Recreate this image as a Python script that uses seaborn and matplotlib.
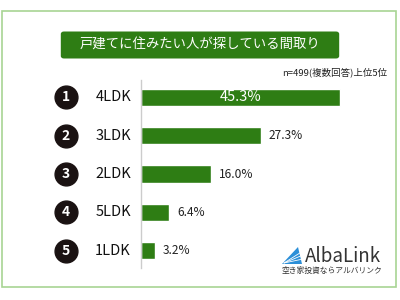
import matplotlib
matplotlib.use('Agg')
import matplotlib.pyplot as plt
import matplotlib.patches as mpatches
import pandas as pd
import seaborn as sns

# data
ranks = ['1', '2', '3', '4', '5']
layouts = ['4LDK', '3LDK', '2LDK', '5LDK', '1LDK']
shares = [45.3, 27.3, 16.0, 6.4, 3.2]

title = '戸建てに住みたい人が探している間取り'
note = 'n=499(複数回答)上位5位'
logo_name = 'AlbaLink'
logo_sub = '空き家投資ならアルバリンク'

green = '#2e7d14'

sns.set_theme(style='white')
plt.rcParams['font.family'] = ['Noto Sans CJK JP', 'DejaVu Sans']

df = pd.DataFrame({'layout': layouts, 'share': shares})

fig = plt.figure(figsize=(4, 3), dpi=100)
fig.patch.set_facecolor('white')

# outer frame
fig.patches.append(mpatches.Rectangle((0.006, 0.043), 0.984, 0.92, transform=fig.transFigure,
                                      fill=False, edgecolor='#a8d494', linewidth=1.2))
# title banner
fig.patches.append(mpatches.FancyBboxPatch((0.152, 0.805), 0.696, 0.09, transform=fig.transFigure,
                                           boxstyle='round,pad=0,rounding_size=0.008',
                                           facecolor=green, edgecolor='none'))
fig.text(0.5, 0.851, title, color='white', fontsize=9.6, ha='center', va='center')
fig.text(0.968, 0.758, note, color='#222222', fontsize=6.8, ha='right', va='center')

ax = fig.add_axes([141 / 400, 1 - 268 / 300, 200 / 400, 188 / 300])
sns.barplot(data=df, x='share', y='layout', orient='h', color=green, saturation=1,
            width=0.46, ax=ax)
ax.set_xlim(0, 45.5)
ax.set_xlabel('')
ax.set_ylabel('')
ax.set_xticks([])
ax.set_yticks([])
for s in ['top', 'right', 'bottom']:
    ax.spines[s].set_visible(False)
ax.spines['left'].set_color('#cccccc')
ax.spines['left'].set_linewidth(1)

ytrans = ax.get_yaxis_transform()
for i, (r, lay, v) in enumerate(zip(ranks, layouts, shares)):
    ax.scatter([-0.375], [i], s=270, color='#1a1212', transform=ytrans, clip_on=False, zorder=5)
    ax.text(-0.375, i, r, transform=ytrans, color='white', fontsize=10, fontweight='bold',
            ha='center', va='center', zorder=6)
    ax.text(-0.05, i, lay, transform=ytrans, color='#111111', fontsize=10.5,
            ha='right', va='center')
    if i == 0:
        ax.text(v / 2, i, f'{v:.1f}%', color='white', fontsize=10.5, ha='center', va='center')
    else:
        ax.text(v + 1.8, i, f'{v:.1f}%', color='#222222', fontsize=8.6, ha='left', va='center')

# logo: striped triangle mark plus name
W, H = 400, 300
tri = [(282 / W, 1 - 264 / H), (302 / W, 1 - 264 / H), (298 / W, 1 - 247 / H)]
fig.patches.append(mpatches.Polygon(tri, closed=True, transform=fig.transFigure,
                                    facecolor='#2b8fd8', edgecolor='none'))
for yy in [251, 255, 259]:
    fig.lines.append(plt.Line2D([284 / W, 303 / W], [1 - 263 / H, 1 - yy / H],
                                transform=fig.transFigure, color='white', linewidth=0.6))
fig.text(305 / W, 1 - 257 / H, logo_name, color='#333333', fontsize=13.5, ha='left', va='center')
fig.text(332 / W, 1 - 271 / H, logo_sub, color='#333333', fontsize=5.6, ha='center', va='center')

fig.savefig('out.png', dpi=100, facecolor='white')
